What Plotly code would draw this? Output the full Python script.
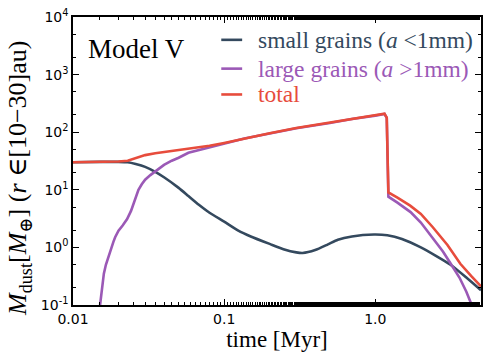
import plotly.graph_objects as go

# time [Myr] and dust mass [M_earth]
t_small = [0.01, 0.015, 0.02, 0.023, 0.026, 0.03, 0.035, 0.04, 0.05, 0.058, 0.068,
           0.08, 0.1, 0.124, 0.15, 0.2, 0.25, 0.3, 0.33, 0.4, 0.486, 0.565, 0.7,
           0.98, 1.2, 1.5, 2.0, 2.5, 3.14, 4.0, 5.0]
m_small = [30, 30.5, 30.5, 30, 28, 25, 20.5, 16.5, 10.8, 7.8, 5.5,
           4.0, 2.8, 1.96, 1.55, 1.15, 0.92, 0.82, 0.80, 0.9, 1.13, 1.36, 1.55,
           1.67, 1.62, 1.4, 1.0, 0.72, 0.5, 0.3, 0.18]

t_large = [0.0151, 0.0153, 0.0155, 0.0158, 0.016, 0.0165, 0.017, 0.0175, 0.0179, 0.0185,
           0.019, 0.02, 0.0213, 0.0228, 0.0242, 0.0256, 0.0271, 0.0285, 0.03, 0.0325,
           0.0354, 0.04, 0.045, 0.05, 0.058, 0.07, 0.08, 0.1, 0.136, 0.2, 0.3, 0.5, 0.7,
           1.0, 1.15, 1.19, 1.22, 1.4, 1.71, 2.0, 2.41, 2.8, 3.14, 3.6, 4.0, 4.3, 4.45]
m_large = [0.1, 0.14, 0.2, 0.28, 0.35, 0.5, 0.65, 0.85, 1.0, 1.25,
           1.5, 1.95, 2.4, 3.1, 4.3, 6.5, 10, 12.5, 15, 18,
           21, 27, 32, 36, 44, 50, 54, 62, 78, 95, 117, 144, 169,
           194, 207, 178, 7.6, 6.0, 4.1, 2.7, 1.41, 0.85, 0.53, 0.3, 0.17, 0.107, 0.085]

t_total = [0.01, 0.015, 0.02, 0.023, 0.026, 0.03, 0.035, 0.04, 0.05, 0.06, 0.08,
           0.1, 0.15, 0.2, 0.3, 0.5, 0.7, 1.0, 1.15, 1.19, 1.22, 1.4, 1.7, 2.0,
           2.4, 3.0, 3.65, 4.3, 5.0]
m_total = [30, 30.5, 31, 32, 36, 40, 43, 45, 48, 51, 58,
           65, 82, 96, 118, 145, 170, 195, 209, 180, 9.0, 7.3, 5.3, 3.8,
           2.24, 1.1, 0.52, 0.32, 0.21]

x_ticks = [0.01, 0.1, 1.0]
x_labels = ['0.01', '0.1', '1.0']
y_ticks = [0.1, 1, 10, 100, 1000, 10000]
y_labels = ['10<sup>-1</sup>', '10<sup>0</sup>', '10<sup>1</sup>',
            '10<sup>2</sup>', '10<sup>3</sup>', '10<sup>4</sup>']

series_names = ['small grains (<i>a</i> &lt;1mm)', 'large grains (<i>a</i> &gt;1mm)', 'total']
colors = ['#34495e', '#9b59b6', '#e74c3c']

serif = 'Liberation Serif, DejaVu Serif, serif'

fig = go.Figure()
fig.add_trace(go.Scatter(
    x=t_small, y=m_small, mode='lines', name=series_names[0],
    line=dict(color=colors[0], width=2.6, shape='spline', smoothing=0.6)))
fig.add_trace(go.Scatter(
    x=t_large, y=m_large, mode='lines', name=series_names[1],
    line=dict(color=colors[1], width=2.6)))
fig.add_trace(go.Scatter(
    x=t_total, y=m_total, mode='lines', name=series_names[2],
    line=dict(color=colors[2], width=2.6)))

axis_style = dict(
    showline=True, linecolor='black', linewidth=1.5, mirror='ticks',
    ticks='inside', ticklen=6, tickwidth=1, tickcolor='black',
    showgrid=False, zeroline=False,
    tickfont=dict(family='DejaVu Sans', size=14, color='black'),
    minor=dict(ticks='inside', ticklen=3, tickwidth=1, tickcolor='black', showgrid=False),
)

fig.update_xaxes(
    type='log', range=[-2, 0.699], tickvals=x_ticks, ticktext=x_labels,
    title=dict(text='time [Myr]', font=dict(family=serif, size=23, color='black'),
               standoff=4),
    **axis_style)
fig.update_yaxes(
    type='log', range=[-1, 4], tickvals=y_ticks, ticktext=y_labels,
    **axis_style)

# y title (sits a bit lower than the axis centre in the original)
fig.add_annotation(
    x=-0.132, y=0.438, xref='paper', yref='paper', xanchor='center', yanchor='middle',
    text='<i>M</i><sub>dust</sub>[<i>M</i><sub>⊕</sub>] (<i>r</i> ∈[10−30]au)',
    textangle=-90, showarrow=False,
    font=dict(family=serif, size=26, color='black'))

fig.add_annotation(
    x=0.0317, y=0.89, xref='paper', yref='paper', xanchor='left', yanchor='middle',
    text='Model V', showarrow=False,
    font=dict(family=serif, size=27, color='black'))

# legend drawn by hand so text takes the line colour
legend_rows = [0.9207, 0.8207, 0.731]
for name, col, yy in zip(series_names, colors, legend_rows):
    fig.add_shape(type='line', xref='paper', yref='paper',
                  x0=0.3634, x1=0.4146, y0=yy, y1=yy,
                  line=dict(color=col, width=2.6))
    fig.add_annotation(
        x=0.4488, y=yy, xref='paper', yref='paper', xanchor='left', yanchor='middle',
        text=name, showarrow=False,
        font=dict(family=serif, size=23.5, color=col))

fig.update_layout(
    width=490, height=357,
    margin=dict(l=73, r=7, t=15, b=52),
    plot_bgcolor='white', paper_bgcolor='white',
    font=dict(family=serif),
    showlegend=False,
)

fig.write_html('out.html', config={'displayModeBar': False},
               post_script="document.body.style.margin='0';")
